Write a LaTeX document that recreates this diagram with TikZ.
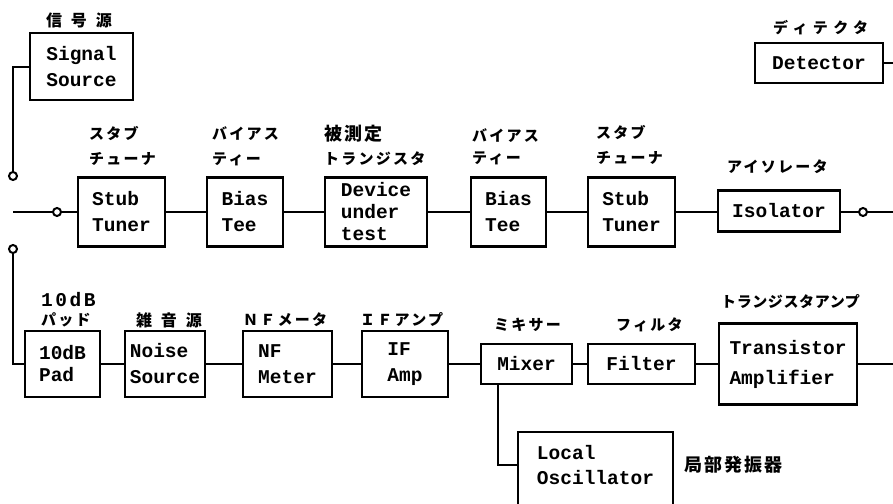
\documentclass[tikz,border=0pt]{standalone}
\usepackage{fontspec}
\setmonofont{Liberation Mono}
\newfontfamily\monosp[LetterSpace=13]{Liberation Mono}
\newfontfamily\jpk[LetterSpace=15]{Noto Sans CJK JP}
\newfontfamily\jpkt[LetterSpace=4]{Noto Sans CJK JP}
\newfontfamily\jpkw[LetterSpace=36]{Noto Sans CJK JP}
\newfontfamily\jpb[LetterSpace=12]{Noto Sans CJK JP}
\newfontfamily\jpw[LetterSpace=55]{Noto Sans CJK JP}
\begin{document}
\begin{tikzpicture}[x=1pt,y=-1pt,
  box/.style={draw, line width=2.4pt, inner sep=0pt, align=left,
    font=\ttfamily\bfseries\fontsize{19.5}{26}\selectfont},
  lobox/.style={inner sep=0pt, align=left,
    font=\ttfamily\bfseries\fontsize{19.5}{25}\selectfont},
  wire/.style={line width=2pt},
  frame/.style={line width=2.4pt},
  term/.style={circle, draw, line width=2pt, fill=white, inner sep=0pt, minimum size=8pt},
  kana/.style={inner sep=0pt, anchor=west, font=\jpk\bfseries\fontsize{15}{15}\selectfont},
  kanat/.style={inner sep=0pt, anchor=west, font=\jpkt\bfseries\fontsize{15}{15}\selectfont},
  kanaw/.style={inner sep=0pt, anchor=west, font=\jpkw\bfseries\fontsize{15}{15}\selectfont},
  kanjib/.style={inner sep=0pt, anchor=west, font=\jpb\bfseries\fontsize{18}{18}\selectfont},
  kanjiw/.style={inner sep=0pt, anchor=west, font=\jpw\bfseries\fontsize{16}{16}\selectfont},
  monolab/.style={inner sep=0pt, anchor=west, font=\monosp\bfseries\fontsize{19.5}{20}\selectfont}
]
\useasboundingbox (0,0) rectangle (893,503);

% ---- boxes ----
\node[box, minimum width=103pt, minimum height=67pt] (ss) at (81.5,66.5) {Signal\\Source};
\node[box, minimum width=128pt, minimum height=40pt] (det) at (819,63) {Detector};

\node[box, minimum width=87pt, minimum height=69pt] (st1) at (121.5,212) {Stub\\Tuner};
\node[box, minimum width=76pt, minimum height=69pt] (bt1) at (245,212) {Bias\\Tee};
\node[box, minimum width=102pt, minimum height=69pt,
  font=\ttfamily\bfseries\fontsize{19.5}{22}\selectfont] (dut) at (376,212) {Device\\under\\test};
\node[box, minimum width=75pt, minimum height=69pt] (bt2) at (508.5,212) {Bias\\Tee};
\node[box, minimum width=87pt, minimum height=69pt] (st2) at (631.5,212) {Stub\\Tuner};
\node[box, minimum width=122pt, minimum height=41pt] (iso) at (779,211) {Isolator};

\node[box, minimum width=75pt, minimum height=66pt,
  font=\ttfamily\bfseries\fontsize{19.5}{22}\selectfont] (pad) at (62.5,364) {10dB\\Pad};
\node[box, minimum width=80pt, minimum height=66pt] (ns) at (165,364) {Noise\\Source};
\node[box, minimum width=89pt, minimum height=66pt] (nf) at (287.5,364) {NF\\Meter};
\node[box, minimum width=86pt, minimum height=66pt] (ifa) at (405,364) {IF\\Amp};
\node[box, minimum width=91pt, minimum height=40pt] (mix) at (526.5,364) {Mixer};
\node[box, minimum width=107pt, minimum height=40pt] (fil) at (641.5,364) {Filter};
\node[box, minimum width=138pt, minimum height=81pt,
  font=\ttfamily\bfseries\fontsize{19.5}{30}\selectfont] (ta) at (788,364) {Transistor\\Amplifier};
\node[lobox, minimum width=155pt, minimum height=66pt] (lo) at (595.5,465) {Local\\Oscillator};
\draw[frame] ([yshift=-20pt]lo.south west) |- (lo.north east) -- ([yshift=-20pt]lo.south east);

% ---- terminals ----
\node[term] (c1) at (13,176) {};
\node[term] (c2) at (57,212) {};
\node[term] (c3) at (863,212) {};
\node[term] (c4) at (13,249) {};

\coordinate (ml) at (13,212);
\coordinate (rr) at (893,212);
\coordinate (dr) at (893,63);
\coordinate (br) at (893,364);

% ---- connectors ----
\draw[wire] (ss.west) -| (c1.north);
\draw[wire] (ml) -- (c2) -- (st1);
\draw[wire] (st1) -- (bt1);
\draw[wire] (bt1) -- (dut);
\draw[wire] (dut) -- (bt2);
\draw[wire] (bt2) -- (st2);
\draw[wire] (st2) -- (st2 -| iso.west);
\draw[wire] (c3 -| iso.east) -- (c3) -- (rr);
\draw[wire] (det.east) -- (dr);

\draw[wire] (c4.south) |- (pad.west);
\draw[wire] (pad) -- (ns);
\draw[wire] (ns) -- (nf);
\draw[wire] (nf) -- (ifa);
\draw[wire] (ifa) -- (mix);
\draw[wire] (mix) -- (fil);
\draw[wire] (fil) -- (ta);
\draw[wire] (ta) -- (br);
\draw[wire] ([xshift=-28.5pt]mix.south) |- (lo.west);

% ---- labels ----
\node[kanjiw] (lss) at (46,20) {信号源};
\node[kanaw] (ldet) at (773,28) {ディテクタ};

\node[kana] (lst1a) at (89,134) {スタブ};
\node[kana] (lst1b) at (89,159) {チューナ};
\node[kana] (lbt1a) at (212,134) {バイアス};
\node[kana] (lbt1b) at (212,159) {ティー};
\node[kanjib] (ldut1) at (324,134) {被測定};
\node[kana] (ldut2) at (324,159) {トランジスタ};
\node[kana] (lbt2a) at (472,136) {バイアス};
\node[kana] (lbt2b) at (472,158) {ティー};
\node[kana] (lst2a) at (596,133) {スタブ};
\node[kana] (lst2b) at (596,158) {チューナ};
\node[kana] (liso) at (727,167) {アイソレータ};

\node[monolab] (lpad1) at (41,300) {10dB};
\node[kana] (lpad2) at (41,320) {パッド};
\node[kanjiw] (lns) at (136,320) {雑音源};
\node[kana] (lnf) at (243,320) {ＮＦメータ};
\node[kana] (lif) at (360,320) {ＩＦアンプ};
\node[kana] (lmix) at (494,325) {ミキサー};
\node[kana] (lfil) at (616,325) {フィルタ};
\node[kanat] (lta) at (721,302) {トランジスタアンプ};
\node[kanjib] (llo) at (684,465) {局部発振器};
\end{tikzpicture}
\end{document}
